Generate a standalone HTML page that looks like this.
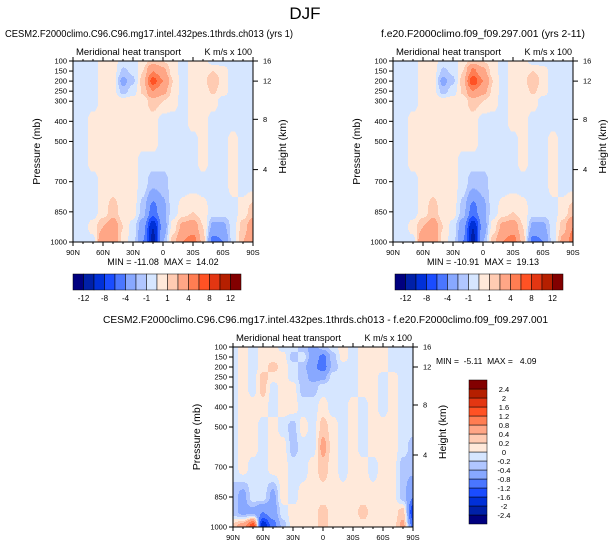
<!DOCTYPE html>
<html><head><meta charset="utf-8"><style>
html,body{margin:0;padding:0;background:#fff;}
svg{display:block;font-family:"Liberation Sans",Arial,sans-serif;}
.pre{white-space:pre;}
</style></head><body>
<svg id="s" width="611" height="547" viewBox="0 0 611 547" xmlns="http://www.w3.org/2000/svg">
<text x="305" y="19" font-size="17" text-anchor="middle">DJF</text>
</svg>
<script>
const lats=[90,80,70,60,50,40,30,20,10,0,-10,-20,-30,-40,-50,-60,-70,-80,-90];
const levs=[100,150,200,250,300,400,500,600,700,850,925,1000];
const pTicks=[100,150,200,250,300,400,500,700,850,1000];
const hTicks=[[16,100],[12,200],[8,390],[4,640]];
const xTickLabels=['90N','60N','30N','0','30S','60S','90S'];
const xTickLats=[90,60,30,0,-30,-60,-90];
const bounds1=[-12,-10,-8,-6,-4,-2,-1,0,1,2,4,6,8,10,12];
const bounds3=[-2.4,-2,-1.6,-1.2,-0.8,-0.4,-0.2,0,0.2,0.4,0.8,1.2,1.6,2,2.4];
const colors=['#00007f','#0020a8','#0030d8','#1a4cff','#4a76ff','#88a8ff','#b0c6ff','#d6e6ff','#ffe9da','#ffcbb2','#ffa686','#ff7d52','#ff5224','#e33612','#b51f00','#820000'];
const field1=[
[-.5,-.5,-.5,.5,.5,-.5,-.5,.5,1.5,1,.5,-.5,.5,.5,-.5,-.5,-.5,-.5,-.5],
[-.5,-.5,-.5,.5,.5,-1.2,-.8,1,4,2.5,.5,-.5,.5,.5,1,.5,-.5,-.5,-.5],
[-.5,-.5,-.5,.5,.5,-2.5,-1.2,1.5,7,4,1,-.5,.5,.5,2,.5,-.5,-.5,-.5],
[-.5,-.5,-.5,.5,.5,-1.5,-.5,1.2,4,2.5,.8,-.5,.5,.5,1.2,.5,-.5,-.5,-.5],
[-.5,-.5,-.5,.5,.5,.5,.5,.5,1.5,1,.5,-.5,.5,.5,.5,-.5,-.5,-.5,-.5],
[-.5,-.5,.5,.5,.5,.5,.5,.5,.5,-.5,-.5,-.5,.5,.5,-.5,-.5,-.5,-.5,-.5],
[-.5,-.5,.5,.5,.5,.5,.5,.5,.5,-.5,-.5,-.5,-.5,.5,-.5,-.5,.5,-.5,-.5],
[-.5,-.5,.5,.5,.5,.5,.5,-.5,-.5,-.5,-.5,-.5,-.5,.5,-.5,-.5,.5,-.5,-.5],
[-.5,-.5,-.5,.5,.5,.5,.5,-.5,-1.5,-1.5,-.5,-.5,-.5,-.5,-.5,-.5,.5,-.5,-.5],
[-.5,-.5,-.5,.5,1.5,.5,.5,-1.5,-5,-2.5,-.5,.5,1,.5,-.5,-.5,-.5,.5,1.5],
[-.5,-.5,.5,2,3,1,-.5,-3,-10,-3,.5,2.5,3,1,-2.5,-2.5,-.5,1.5,3],
[-.5,-.5,-.5,4,4,.5,-.5,-4,-11,-2,1.5,4,5,1.5,-5,-4,-.5,2,3.5]];
const field2=[
[-.5,-.5,-.5,.5,.5,-.5,-.5,.5,1.5,1,.5,-.5,.5,.5,-.5,-.5,-.5,-.5,-.5],
[-.5,-.5,-.5,.5,.5,-1.2,-.8,1,4.5,2.5,.5,-.5,.5,.5,1,.5,-.5,-.5,-.5],
[-.5,-.5,-.5,.5,.5,-2.5,-1.2,1.5,7.5,4,1,-.5,.5,.5,2,.5,-.5,-.5,-.5],
[-.5,-.5,-.5,.5,.5,-1.5,-.5,1.2,4,2.5,.8,-.5,.5,.5,1.2,.5,-.5,-.5,-.5],
[-.5,-.5,-.5,.5,.5,.5,.5,.5,1.5,1,.5,-.5,.5,.5,.5,-.5,-.5,-.5,-.5],
[-.5,-.5,.5,.5,.5,.5,.5,.5,.5,-.5,-.5,-.5,.5,.5,-.5,-.5,-.5,-.5,-.5],
[-.5,-.5,.5,.5,.5,.5,.5,.5,.5,-.5,-.5,-.5,-.5,.5,-.5,-.5,.5,-.5,-.5],
[-.5,-.5,.5,.5,.5,.5,.5,-.5,-.5,-.5,-.5,-.5,-.5,.5,-.5,-.5,.5,-.5,-.5],
[-.5,-.5,-.5,.5,.5,.5,.5,-.5,-1.5,-1.5,-.5,-.5,-.5,-.5,-.5,-.5,.5,-.5,-.5],
[-.5,-.5,-.5,.5,1.5,.5,.5,-1.5,-5,-2.5,-.5,.5,1,.5,-.5,-.5,-.5,.5,1.5],
[-.5,-.5,.5,2,3,1,-.5,-3,-10,-3,.5,2.5,3,1,-2.5,-2.5,-.5,1.5,4],
[-.5,-.5,-.5,4,4,.5,-.5,-4,-11,-2,1.5,4,5,1.5,-5,-4,-.5,2.5,5]];
const field3=[
[-.1,.1,-.1,.1,.1,-.1,-.1,-.3,-.5,-.3,-.1,.1,-.1,.1,.1,.1,-.1,-.1,-.1],
[-.1,.1,-.1,.1,.1,.1,-.3,-.1,-.6,-.9,-.3,.1,-.1,.1,.1,.1,-.1,-.1,-.1],
[-.1,.1,-.1,.1,.3,.1,-.1,-.3,-.7,-1,-.3,-.1,-.1,.1,.1,.1,-.1,-.1,-.1],
[-.1,.1,-.1,.3,.1,.1,-.1,-.3,-.5,-.5,-.1,-.1,-.1,.1,.1,-.1,.1,-.1,-.1],
[-.1,.1,-.1,.3,-.1,.1,.1,-.3,-.3,-.1,-.1,-.1,-.1,.1,.1,-.1,.1,-.1,-.1],
[-.1,.1,.1,.1,-.1,.1,.1,-.1,-.1,.1,-.1,-.1,.1,-.1,.1,-.1,.1,-.1,-.1],
[-.1,.1,.1,-.1,.1,-.1,-.3,.1,-.1,.3,.1,-.1,.1,-.1,.1,.1,.1,-.1,-.1],
[-.1,.1,.1,-.1,.1,.1,-.3,-.1,-.1,.5,.1,-.1,.1,-.1,.1,.1,.1,-.1,-.3],
[-.1,.1,-.1,-.1,.1,.1,-.1,-.1,.1,.3,.1,-.1,.1,.1,-.1,.1,.1,-.3,-.3],
[-.3,-.5,-.1,-.1,-.5,.1,-.1,.1,.1,.1,.1,.1,.1,.1,.1,.1,.1,-.3,-.8],
[-.3,-.5,-.5,-.8,-.6,-.1,.1,.1,.1,.3,.1,.1,.1,.3,.1,.1,.1,.3,-1.5],
[.3,.6,1.5,-2,-1,-.3,.1,.1,.1,.3,.1,.1,.1,.1,.1,.1,.1,.5,-1]];

const NS='http://www.w3.org/2000/svg';
const svg=document.getElementById('s');
function mk(tag,attrs,parent){const e=document.createElementNS(NS,tag);for(const k in attrs)e.setAttribute(k,attrs[k]);(parent||svg).appendChild(e);return e;}
function txt(x,y,s,size,anchor,parent,extra){const t=mk('text',Object.assign({x:x,y:y,'font-size':size,'text-anchor':anchor||'start'},extra||{}),parent);t.textContent=s;return t;}
function colorFor(v,b){let i=0;while(i<b.length&&v>=b[i])i++;return colors[i];}
function sample(f,lat,p){
  let fi=(90-lat)/10;let i0=Math.min(Math.floor(fi),lats.length-2);let tx=fi-i0;
  tx=tx*tx*(3-2*tx);
  let j0=0;while(j0<levs.length-2&&p>levs[j0+1])j0++;
  let ty=(p-levs[j0])/(levs[j0+1]-levs[j0]);ty=Math.max(0,Math.min(1,ty));
  ty=ty*ty*(3-2*ty);
  const a=f[j0][i0],b=f[j0][i0+1],c=f[j0+1][i0],d=f[j0+1][i0+1];
  return (a*(1-tx)+b*tx)*(1-ty)+(c*(1-tx)+d*tx)*ty;
}
function panel(name,x0,y0,W,H,field,bounds){
  const g=mk('g',{});
  
  
  const xS=lat=>x0+(90-lat)/180*W;
  const yS=p=>y0+(p-100)/900*H;
  const cg=mk('g',{'shape-rendering':'crispEdges'},g);
  
  
  const nx=180,ny=180,cw=W/nx,ch=H/ny;
  for(let r=0;r<ny;r++){
    const p=100+(r+0.5)/ny*900;
    let start=0,cur=null;
    for(let c=0;c<=nx;c++){
      let col=null;
      if(c<nx){const lat=90-(c+0.5)/nx*180;col=colorFor(sample(field,lat,p),bounds);}
      if(col!==cur){
        if(cur!==null){const rc=mk('rect',{x:(x0+start*cw).toFixed(2),y:(y0+r*ch).toFixed(2),width:((c-start)*cw+0.3).toFixed(2),height:(ch+0.3).toFixed(2),fill:cur},cg);
          
          }
        cur=col;start=c;
      }
    }
  }
  const fr=mk('rect',{x:x0,y:y0,width:W,height:H,fill:'none',stroke:'#000','stroke-width':1},g);
  
  
  xTickLats.forEach((lat,i)=>{
    const x=xS(lat);
    mk('line',{x1:x,y1:y0+H,x2:x,y2:y0+H+4,stroke:'#000'},g);
    mk('line',{x1:x,y1:y0,x2:x,y2:y0-4,stroke:'#000'},g);
    const t=txt(x,y0+H+13,xTickLabels[i],7.5,'middle',g);
    
    
  });
  for(let lat=80;lat>-90;lat-=10){if(lat%30===0)continue;const x=xS(lat);
    mk('line',{x1:x,y1:y0+H,x2:x,y2:y0+H+2,stroke:'#000'},g);mk('line',{x1:x,y1:y0,x2:x,y2:y0-2,stroke:'#000'},g);}
  pTicks.forEach(p=>{
    const y=yS(p);
    mk('line',{x1:x0,y1:y,x2:x0-4,y2:y,stroke:'#000'},g);
    const t=txt(x0-6,y+2.5,String(p),7.5,'end',g);
    
    
  });
  hTicks.forEach(h=>{
    const y=yS(h[1]);
    mk('line',{x1:x0+W,y1:y,x2:x0+W+5,y2:y,stroke:'#000'},g);
    const t=txt(x0+W+10,y+2.5,String(h[0]),7.5,'start',g);
    
    
  });
  const yl=txt(0,0,'Pressure (mb)',10.5,'middle',g,{transform:`translate(${x0-33},${y0+H/2}) rotate(-90)`});
  
  
  const hl=txt(0,0,'Height (km)',10.5,'middle',g,{transform:`translate(${x0+W+33},${y0+H/2-5}) rotate(-90)`});
  
  
  const l1=txt(x0+3,y0-6,'Meridional heat transport',9,'start',g,{textLength:105,lengthAdjust:'spacingAndGlyphs'});
  
  
  const l2=txt(x0+W-1,y0-6,'K m/s x 100',9,'end',g);
  
  
}
function hbar(name,x0,y0,w,h,labels){
  const g=mk('g',{});
  
  
  const bw=w/colors.length;
  colors.forEach((c,i)=>{const r=mk('rect',{x:x0+i*bw,y:y0,width:bw,height:h,fill:c,stroke:'#000','stroke-width':0.5},g);
    
    });
  labels.forEach((v,i)=>{if(i%2)return;const t=txt(x0+(i+1)*bw,y0+h+11,String(v),8,'middle',g);
    
    });
}
function vbar(name,x0,y0,w,h,labels){
  const g=mk('g',{});
  
  
  const bh=h/colors.length;
  colors.forEach((c,i)=>{const r=mk('rect',{x:x0,y:y0+h-(i+1)*bh,width:w,height:bh,fill:c,stroke:'#000','stroke-width':0.5},g);
    
    });
  labels.forEach((v,i)=>{const t=txt(x0+w+17,y0+h-(i+1)*bh+3,String(v),7.5,'middle',g);
    
    });
}
const t1=txt(5,37,'CESM2.F2000climo.C96.C96.mg17.intel.432pes.1thrds.ch013 (yrs 1)',10.3,'start',null,{textLength:288,lengthAdjust:'spacingAndGlyphs'});


const t2=txt(381,37,'f.e20.F2000climo.f09_f09.297.001 (yrs 2-11)',10.3,'start',null,{textLength:204,lengthAdjust:'spacingAndGlyphs'});


const t3=txt(103,323,'CESM2.F2000climo.C96.C96.mg17.intel.432pes.1thrds.ch013 - f.e20.F2000climo.f09_f09.297.001',10.3,'start',null,{textLength:445,lengthAdjust:'spacingAndGlyphs'});


panel('panel-test',73,61,180,181,field1,bounds1);
panel('panel-control',393,61,180,181,field2,bounds1);
panel('panel-difference',233,347,180,180,field3,bounds3);
const m1=txt(163,265,'MIN = -11.08  MAX =  14.02',9,'middle',null,{'class':'pre'});


const m2=txt(483,265,'MIN = -10.91  MAX =  19.13',9,'middle',null,{'class':'pre'});


const m3=txt(436,364,'MIN =  -5.11  MAX =   4.09',8.5,'start',null,{'class':'pre'});


hbar('colorbar-1',73,274,168,16,bounds1);
hbar('colorbar-2',395,274,168,16,bounds1);
vbar('colorbar-3',469,380,18,144,bounds3);
</script>
</body></html>
